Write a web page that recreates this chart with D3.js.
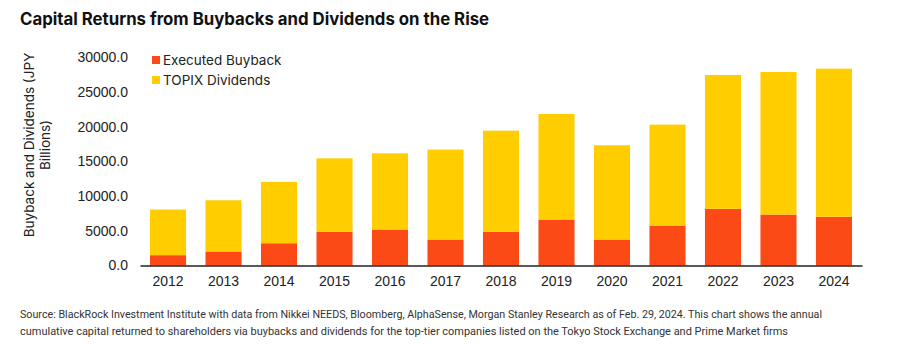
<!DOCTYPE html>
<html>
<head>
<meta charset="utf-8">
<script src="https://cdn.jsdelivr.net/npm/d3@7.9.0/dist/d3.min.js"></script>
<style>
  body { margin: 0; background: #fff; }
  svg { display: block; font-family: Inter, Roboto, "Noto Sans", sans-serif; }
</style>
</head>
<body>
<svg id="chart" width="900" height="344"></svg>
<script>
const years = ['2012', '2013', '2014', '2015', '2016', '2017', '2018', '2019', '2020', '2021', '2022', '2023', '2024'];
// JPY billions
const buyback = [1490, 2020, 3210, 4860, 5190, 3750, 4860, 6630, 3750, 5760, 8170, 7350, 7020];
const totals = [8070, 9410, 12060, 15460, 16180, 16720, 19450, 21860, 17340, 20320, 27480, 27910, 28390];
const dividends = totals.map((t, i) => t - buyback[i]);
const yTicks = [0, 5000, 10000, 15000, 20000, 25000, 30000];

const seriesNames = ['Executed Buyback', 'TOPIX Dividends'];
const colors = ['#fc4a16', '#ffcd00'];

const svg = d3.select('#chart');

// title
svg.append('text')
  .attr('x', 20)
  .attr('y', 25)
  .attr('font-size', 16.8)
  .attr('font-weight', 700)
  .attr('fill', '#111')
  .text('Capital Returns from Buybacks and Dividends on the Rise');

const x = d3.scaleBand()
  .domain(years)
  .range([140, 862])
  .paddingInner(0.35)
  .paddingOuter(0.18);

const y = d3.scaleLinear().domain([0, 30000]).range([265.5, 57.5]);

// stacked bars
const rows = years.map((yr, i) => ({ year: yr, buyback: buyback[i], dividends: dividends[i] }));
const stack = d3.stack().keys(['buyback', 'dividends'])(rows);

svg.append('g')
  .selectAll('g')
  .data(stack)
  .join('g')
  .attr('fill', (d, i) => colors[i])
  .selectAll('rect')
  .data((d) => d)
  .join('rect')
  .attr('x', (d) => x(d.data.year))
  .attr('y', (d) => y(d[1]))
  .attr('width', x.bandwidth())
  .attr('height', (d) => y(d[0]) - y(d[1]));

// y axis (labels only)
const yAxis = svg.append('g')
  .attr('transform', 'translate(128,0)')
  .call(d3.axisLeft(y).tickValues(yTicks).tickSize(0).tickPadding(0).tickFormat(d3.format('.1f')));
yAxis.select('.domain').remove();
yAxis.selectAll('text')
  .attr('font-size', 14)
  .attr('font-family', null)
  .attr('fill', '#222');

// x axis
const xAxis = svg.append('g')
  .attr('transform', `translate(0,${y(0)})`)
  .call(d3.axisBottom(x).tickSize(0).tickPadding(11));
xAxis.select('.domain')
  .attr('stroke', '#222')
  .attr('stroke-width', 1.5);
xAxis.selectAll('text')
  .attr('font-size', 14)
  .attr('font-family', null)
  .attr('fill', '#222');

// y axis title
const yTitle = svg.append('text')
  .attr('transform', 'translate(34,145) rotate(-90)')
  .attr('text-anchor', 'middle')
  .attr('font-size', 13.5)
  .attr('fill', '#222');
yTitle.append('tspan').attr('x', 0).attr('dy', 0).text('Buyback and Dividends (JPY');
yTitle.append('tspan').attr('x', 0).attr('dy', 16).text('Billions)');

// legend
const legend = svg.append('g')
  .selectAll('g')
  .data(seriesNames)
  .join('g')
  .attr('transform', (d, i) => `translate(152,${60 + i * 20})`);
legend.append('rect')
  .attr('x', 0)
  .attr('y', -4)
  .attr('width', 8)
  .attr('height', 8)
  .attr('fill', (d, i) => colors[i]);
legend.append('text')
  .attr('x', 11)
  .attr('dy', '0.35em')
  .attr('font-size', 13.5)
  .attr('fill', '#222')
  .text((d) => d);

// footnote, condensed to its column width
const notes = [
  'Source: BlackRock Investment Institute with data from Nikkei NEEDS, Bloomberg, AlphaSense, Morgan Stanley Research as of Feb. 29, 2024. This chart shows the annual',
  'cumulative capital returned to shareholders via buybacks and dividends for the top-tier companies listed on the Tokyo Stock Exchange and Prime Market firms'
];
const noteWidths = [802, 768];
svg.append('g')
  .selectAll('text')
  .data(notes)
  .join('text')
  .attr('x', 20)
  .attr('y', (d, i) => 318 + i * 17)
  .attr('font-family', 'Roboto, sans-serif')
  .attr('font-size', 11.5)
  .attr('fill', '#333')
  .attr('textLength', (d, i) => noteWidths[i])
  .attr('lengthAdjust', 'spacingAndGlyphs')
  .text((d) => d);
</script>
</body>
</html>
